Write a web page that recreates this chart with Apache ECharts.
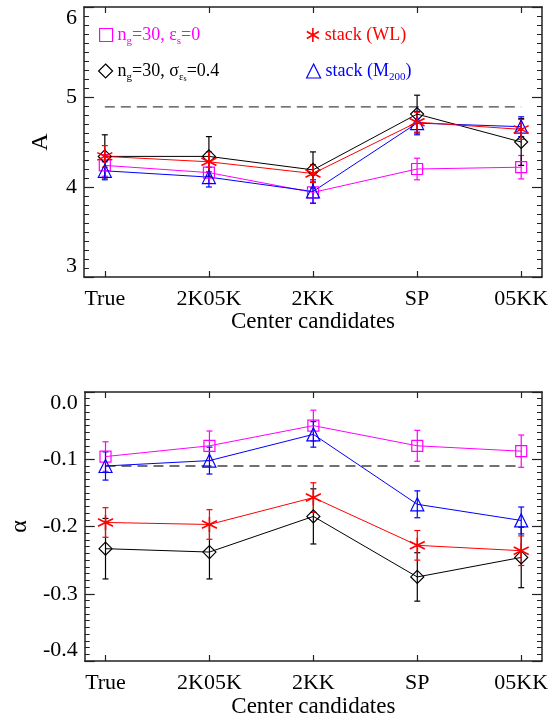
<!DOCTYPE html>
<html>
<head>
<meta charset="utf-8">
<script src="https://cdn.jsdelivr.net/npm/echarts@6/dist/echarts.min.js"></script>
<style>html,body{margin:0;padding:0;background:#fff}#c{width:559px;height:720px}</style>
</head>
<body>
<div id="c"></div>
<script>
// ---- data ----
const categories = ['True', '2K05K', '2KK', 'SP', '05KK'];
const catIdx = [0, 1, 2, 3, 4];

// Top panel: A
const A_mag = [4.24, 4.16, 3.94, 4.20, 4.22];
const A_mag_err = [0.12, 0.12, 0.12, 0.12, 0.13];
const A_blk = [4.34, 4.34, 4.19, 4.81, 4.50];
const A_blk_err = [0.24, 0.22, 0.20, 0.21, 0.26];
const A_red = [4.34, 4.28, 4.15, 4.72, 4.64];
const A_red_err = [0.12, 0.11, 0.10, 0.11, 0.11];
const A_blu = [4.18, 4.11, 3.95, 4.71, 4.67];
const A_blu_err = [0.10, 0.11, 0.13, 0.13, 0.11];
const A_ref = 4.89;

// Bottom panel: alpha
const al_mag = [-0.096, -0.080, -0.050, -0.080, -0.088];
const al_mag_err = [0.022, 0.022, 0.023, 0.023, 0.024];
const al_blu = [-0.110, -0.102, -0.063, -0.167, -0.191];
const al_blu_err = [0.021, 0.020, 0.019, 0.020, 0.020];
const al_red = [-0.194, -0.197, -0.157, -0.228, -0.236];
const al_red_err = [0.022, 0.022, 0.022, 0.022, 0.022];
const al_blk = [-0.233, -0.238, -0.185, -0.275, -0.246];
const al_blk_err = [0.045, 0.040, 0.041, 0.036, 0.045];
const al_ref = -0.11;

const A_ticks = [3, 4, 5, 6];
const al_ticks = [-0.4, -0.3, -0.2, -0.1, 0.0];

// ---- styling ----
const FF = '"Liberation Serif", "Times New Roman", "DejaVu Serif", serif';
const MAG = '#ff00ff', RED = '#ff0000', BLU = '#0000ff', BLK = '#000000';
const AX = '#222';
const ASTER = 'path://M5,0L5,10M0.67,2.5L9.33,7.5M0.67,7.5L9.33,2.5';
const CLEAR = 'rgba(0,0,0,0)';

const N_MAG = 'ng30e0', N_BLK = 'ng30s04', N_RED = 'stackWL', N_BLU = 'stackM200';

function pairs(vals) { return catIdx.map((i) => [i, vals[i]]); }
function triples(vals, errs) { return catIdx.map((i) => [i, vals[i], errs[i]]); }

function errRender(color) {
  return function (params, api) {
    const x = api.value(0), y = api.value(1), e = api.value(2);
    const p1 = api.coord([x, y + e]);
    const p2 = api.coord([x, y - e]);
    const w = 3;
    const st = { stroke: color, lineWidth: 1.2 };
    return {
      type: 'group',
      children: [
        { type: 'line', shape: { x1: p1[0], y1: p1[1], x2: p2[0], y2: p2[1] }, style: st },
        { type: 'line', shape: { x1: p1[0] - w, y1: p1[1], x2: p1[0] + w, y2: p1[1] }, style: st },
        { type: 'line', shape: { x1: p2[0] - w, y1: p2[1], x2: p2[0] + w, y2: p2[1] }, style: st }
      ]
    };
  };
}

function errSeries(vals, errs, color, xi, yi) {
  return {
    type: 'custom', xAxisIndex: xi, yAxisIndex: yi, clip: true,
    renderItem: errRender(color), encode: { x: 0, y: 1 },
    data: triples(vals, errs), silent: true, z: 2
  };
}

function lineSeries(name, vals, color, symbol, size, xi, yi) {
  const isAst = symbol === ASTER;
  return {
    type: 'line', name: name, xAxisIndex: xi, yAxisIndex: yi,
    data: pairs(vals), symbol: symbol, symbolSize: size, showSymbol: true,
    lineStyle: { color: color, width: 1 },
    itemStyle: { color: CLEAR, borderColor: color, borderWidth: isAst ? 1.6 : 1.2 },
    emphasis: { disabled: true }, animation: false, z: 3
  };
}

function refSeries(v, xi, yi) {
  return {
    type: 'line', xAxisIndex: xi, yAxisIndex: yi, data: [[0, v], [4, v]],
    symbol: 'none', lineStyle: { color: '#444', width: 1.3, type: [10, 6] },
    silent: true, animation: false, z: 1
  };
}

function xAxisBottom(gi, nameGap) {
  return {
    type: 'value', gridIndex: gi, position: 'bottom', min: -0.2, max: 4.2,
    name: 'Center candidates', nameLocation: 'middle', nameGap: nameGap,
    nameTextStyle: { fontFamily: FF, fontSize: 23, color: '#000' },
    axisLine: { show: true, onZero: false, lineStyle: { color: AX, width: 1.5 } },
    axisTick: { show: true, inside: true, length: 6, customValues: catIdx, lineStyle: { color: AX, width: 1.2 } },
    axisLabel: { show: true, customValues: catIdx, margin: 11, fontFamily: FF, fontSize: 22, color: '#000',
      formatter: (v) => categories[Math.round(v)] },
    splitLine: { show: false }
  };
}
function xAxisTop(gi) {
  return {
    type: 'value', gridIndex: gi, position: 'top', min: -0.2, max: 4.2,
    axisLine: { show: true, onZero: false, lineStyle: { color: AX, width: 1.5 } },
    axisTick: { show: true, inside: true, length: 6, customValues: catIdx, lineStyle: { color: AX, width: 1.2 } },
    axisLabel: { show: false },
    splitLine: { show: false }
  };
}
function yAxisLeft(gi, min, max, interval, name, nameGap, fmt) {
  return {
    type: 'value', gridIndex: gi, position: 'left', min: min, max: max, interval: interval,
    name: name, nameLocation: 'middle', nameGap: nameGap, nameRotate: 90,
    nameTextStyle: { fontFamily: FF, fontSize: 24, color: '#000' },
    axisLine: { show: true, onZero: false, lineStyle: { color: AX, width: 1.5 } },
    axisTick: { show: true, inside: true, length: 10, lineStyle: { color: AX, width: 1.2 } },
    minorTick: { show: true, splitNumber: 10, length: 5, lineStyle: { color: AX, width: 1 } },
    axisLabel: { show: true, margin: 7, fontFamily: FF, fontSize: 22, color: '#000', formatter: fmt,
      verticalAlignMinLabel: 'bottom', verticalAlignMaxLabel: 'top' },
    splitLine: { show: false }, minorSplitLine: { show: false }
  };
}
function yAxisRight(gi, min, max, interval) {
  return {
    type: 'value', gridIndex: gi, position: 'right', min: min, max: max, interval: interval,
    axisLine: { show: true, onZero: false, lineStyle: { color: AX, width: 1.5 } },
    axisTick: { show: true, inside: true, length: 10, lineStyle: { color: AX, width: 1.2 } },
    minorTick: { show: true, splitNumber: 10, length: 5, lineStyle: { color: AX, width: 1 } },
    axisLabel: { show: false },
    splitLine: { show: false }, minorSplitLine: { show: false }
  };
}

function richFor(color) {
  return {
    t: { fontFamily: FF, fontSize: 18, color: color, lineHeight: 24, verticalAlign: 'middle' },
    sub: { fontFamily: FF, fontSize: 11, color: color, lineHeight: 12, verticalAlign: 'bottom' },
    ss: { fontFamily: FF, fontSize: 8, color: color, lineHeight: 6, verticalAlign: 'bottom' }
  };
}
function legendItem(name, icon, left, top, size, color, text, bw) {
  return {
    data: [{ name: name, icon: icon,
      itemStyle: { color: CLEAR, borderColor: color, borderWidth: bw } }],
    left: left, top: top, padding: 0,
    itemWidth: size, itemHeight: size, selectedMode: false,
    formatter: () => text,
    textStyle: { fontFamily: FF, fontSize: 18, color: color, rich: richFor(color) }
  };
}

const option = {
  animation: false,
  backgroundColor: '#fff',
  grid: [
    { left: 84, right: 17, top: 7, height: 270 },
    { left: 84, right: 17, top: 392, height: 269 }
  ],
  xAxis: [xAxisBottom(0, 30), xAxisTop(0), xAxisBottom(1, 34), xAxisTop(1)],
  yAxis: [
    yAxisLeft(0, A_ticks[0], A_ticks[A_ticks.length - 1], 1, 'A', 31, (v) => String(Math.round(v))),
    yAxisRight(0, A_ticks[0], A_ticks[A_ticks.length - 1], 1),
    yAxisLeft(1, al_ticks[0], al_ticks[al_ticks.length - 1], 0.1, 'α', 52, (v) => v.toFixed(1)),
    yAxisRight(1, al_ticks[0], al_ticks[al_ticks.length - 1], 0.1)
  ],
  legend: [
    legendItem(N_MAG, 'rect', 99, 26, 13, MAG, '{t|n}{sub|g}{t|=30, ε}{sub|s}{t|=0}', 1.2),
    legendItem(N_BLK, 'diamond', 98, 62, 14, BLK, '{t|n}{sub|g}{t|=30, σ}{sub|ε}{ss|s}{t|=0.4}', 1.2),
    legendItem(N_RED, ASTER, 306, 26, 14, RED, '{t|stack (WL)}', 1.6),
    legendItem(N_BLU, 'triangle', 306, 62, 14, BLU, '{t|stack (M}{sub|200}{t|)}', 1.2)
  ],
  series: [
    refSeries(A_ref, 0, 0),
    errSeries(A_mag, A_mag_err, MAG, 0, 0),
    lineSeries(N_MAG, A_mag, MAG, 'rect', 11, 0, 0),
    errSeries(A_blk, A_blk_err, BLK, 0, 0),
    lineSeries(N_BLK, A_blk, BLK, 'diamond', 13, 0, 0),
    errSeries(A_blu, A_blu_err, BLU, 0, 0),
    lineSeries(N_BLU, A_blu, BLU, 'triangle', 13, 0, 0),
    errSeries(A_red, A_red_err, RED, 0, 0),
    lineSeries(N_RED, A_red, RED, ASTER, 15, 0, 0),

    refSeries(al_ref, 2, 2),
    errSeries(al_mag, al_mag_err, MAG, 2, 2),
    lineSeries(N_MAG, al_mag, MAG, 'rect', 11, 2, 2),
    errSeries(al_blk, al_blk_err, BLK, 2, 2),
    lineSeries(N_BLK, al_blk, BLK, 'diamond', 13, 2, 2),
    errSeries(al_blu, al_blu_err, BLU, 2, 2),
    lineSeries(N_BLU, al_blu, BLU, 'triangle', 13, 2, 2),
    errSeries(al_red, al_red_err, RED, 2, 2),
    lineSeries(N_RED, al_red, RED, ASTER, 15, 2, 2)
  ]
};

const chart = echarts.init(document.getElementById('c'), null, { renderer: 'canvas' });
chart.setOption(option);
</script>
</body>
</html>
